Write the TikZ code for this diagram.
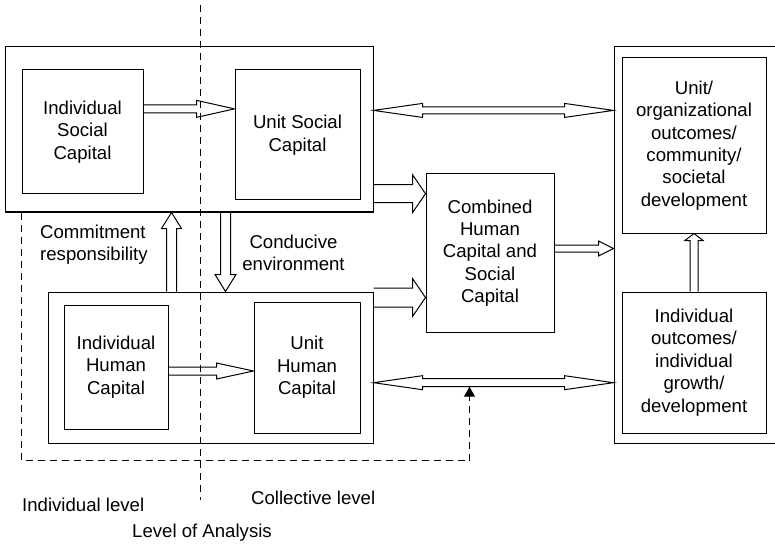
\documentclass[tikz,border=0pt]{standalone}
\usepackage{fontspec}
\setmainfont{Liberation Sans}
\usetikzlibrary{calc,arrows.meta}

\tikzset{
  box/.style={draw, line width=1pt, inner sep=0pt, align=center,
    font=\fontsize{18.6}{22.4}\selectfont},
  lbl/.style={inner sep=0pt, font=\fontsize{18.6}{22.4}\selectfont},
  blockarrow/.style={draw, line width=1pt, line join=miter},
  levelline/.style={line width=1pt, dash pattern=on 7pt off 5pt},
}

% hollow arrow: from, to, shaft half width, head half width, head length
\newcommand{\hollowarr}[5]{%
  \draw[blockarrow] let \p1=($(#2)-(#1)$), \n1={veclen(\x1,\y1)}, \n2={atan2(\y1,\x1)} in
    [shift={(#1)}, rotate=\n2] (0pt,#3pt) -- (\n1-#5pt,#3pt) -- (\n1-#5pt,#4pt) -- (\n1,0pt)
    -- (\n1-#5pt,-#4pt) -- (\n1-#5pt,-#3pt) -- (0pt,-#3pt);
}
% hollow arrow with a head at both ends
\newcommand{\hollowdbl}[5]{%
  \draw[blockarrow] let \p1=($(#2)-(#1)$), \n1={veclen(\x1,\y1)}, \n2={atan2(\y1,\x1)} in
    [shift={(#1)}, rotate=\n2] (#5pt,#3pt) -- (\n1-#5pt,#3pt) -- (\n1-#5pt,#4pt) -- (\n1,0pt)
    -- (\n1-#5pt,-#4pt) -- (\n1-#5pt,-#3pt) -- (#5pt,-#3pt) -- (#5pt,-#4pt) -- (0pt,0pt)
    -- (#5pt,#4pt) -- cycle;
}

\begin{document}
\begin{tikzpicture}[x=1pt, y=-1pt]
  \useasboundingbox (0,0) rectangle (775,545);

  % boxes
  \node[box, minimum width=368, minimum height=165] (socialbox) at (189,129.5) {};
  \node[box, minimum width=121, minimum height=124] (isc) at (82.5,132) {Individual\\Social\\Capital};
  \node[box, minimum width=125, minimum height=130] (usc) at (297.5,135) {Unit Social\\Capital};
  \node[box, minimum width=325, minimum height=151] (humanbox) at (210.5,367.5) {};
  \node[box, minimum width=104, minimum height=124] (ihc) at (116,367) {Individual\\Human\\Capital};
  \node[box, minimum width=106, minimum height=131] (uhc) at (307,367.5) {Unit\\Human\\Capital};
  \node[box, minimum width=128, minimum height=158] (combined) at (490,253) {Combined\\Human\\Capital and\\Social\\Capital};
  \node[box, minimum width=180, minimum height=396] (outcomebox) at (704,245) {};
  \node[box, minimum width=144, minimum height=175] (unitout) at (694,145.5) {Unit/\\organizational\\outcomes/\\community/\\societal\\development};
  \node[box, minimum width=144, minimum height=141] (indout) at (694,362.5) {Individual\\outcomes/\\individual\\growth/\\development};

  % labels
  \node[lbl, anchor=west, align=left] (commit) at (40,244.5) {Commitment\\responsibility};
  \node[lbl, align=center] (conducive) at (293.5,253) {Conducive\\environment};
  \node[lbl, anchor=west] (indlevel) at (22,505) {Individual level};
  \node[lbl, anchor=west] (collevel) at (251,498) {Collective level};
  \node[lbl, anchor=west] (analysis) at (132,533) {Level of Analysis};

  % arrow ends
  \coordinate (s1) at ($(isc.north east)!.315!(isc.south east)$);
  \coordinate (s2) at (usc.west |- s1);
  \coordinate (h1) at ($(ihc.east)+(0,4)$);
  \coordinate (h2) at (uhc.west |- h1);
  \coordinate (d1) at ($(socialbox.north east)!.385!(socialbox.south east)$);
  \coordinate (d2) at (outcomebox.west |- d1);
  \coordinate (e1) at ($(humanbox.north east)!.6!(humanbox.south east)$);
  \coordinate (e2) at (outcomebox.west |- e1);
  \coordinate (c2) at ($(combined.north west)!.127!(combined.south west)$);
  \coordinate (c1) at (socialbox.east |- c2);
  \coordinate (k2) at ($(combined.north west)!.78!(combined.south west)$);
  \coordinate (k1) at (humanbox.east |- k2);
  \coordinate (m1) at ($(combined.east)+(0,-4.5)$);
  \coordinate (m2) at (outcomebox.west |- m1);
  \coordinate (u1) at ($(humanbox.north west)+(124,0)$);
  \coordinate (u2) at (socialbox.south -| u1);
  \coordinate (v1) at ($(socialbox.south west)+(221,0)$);
  \coordinate (v2) at (humanbox.north -| v1);
  \coordinate (fb) at ($($(e1)!.4!(e2)$)+(0,4)$);
  \coordinate (lowline) at ($(humanbox.south)+(0,17)$);

  % arrows
  \hollowarr{s1}{s2}{4}{8.5}{38}
  \hollowarr{h1}{h2}{4}{8}{37}
  \hollowdbl{d1}{d2}{3.5}{7}{49}
  \hollowdbl{e1}{e2}{4}{7}{49}
  \hollowarr{c1}{c2}{9}{19}{13}
  \hollowarr{k1}{k2}{9.5}{19}{13}
  \hollowarr{m1}{m2}{3.5}{7.5}{15}
  \hollowarr{indout.north}{unitout.south}{4}{9}{7}
  \hollowarr{u1}{u2}{5}{10}{16}
  \hollowarr{v1}{v2}{5}{10.5}{17}

  % levels of analysis
  \draw[levelline] (200,5) -- (200,500);
  \draw[levelline, -{Triangle[length=10pt, width=11pt]}] (isc.west |- socialbox.south)
    -- (isc.west |- lowline) -| (fb);
\end{tikzpicture}
\end{document}
